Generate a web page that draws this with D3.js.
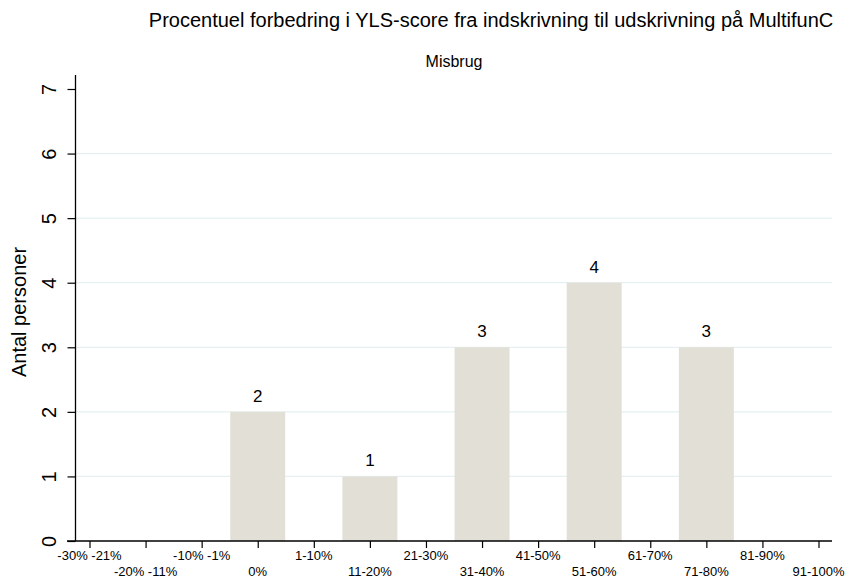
<!DOCTYPE html>
<html>
<head>
<meta charset="utf-8">
<script src="https://cdn.jsdelivr.net/npm/d3@7"></script>
<style>
  body { margin: 0; background: #fff; }
  svg text { font-family: Arial, "Liberation Sans", sans-serif; fill: #000; }
</style>
</head>
<body>
<div id="chart"></div>
<script>
// Data
const categories = ["-30% -21%", "-20% -11%", "-10% -1%", "0%", "1-10%", "11-20%", "21-30%",
                    "31-40%", "41-50%", "51-60%", "61-70%", "71-80%", "81-90%", "91-100%"];
const counts     = [0, 0, 0, 2, 0, 1, 0, 3, 0, 4, 0, 3, 0, 0];
const yTicks     = [0, 1, 2, 3, 4, 5, 6, 7];
const titleText    = "Procentuel forbedring i YLS-score fra indskrivning til udskrivning på MultifunC";
const subtitleText = "Misbrug";
const yLabel       = "Antal personer";

const W = 846, H = 580;
const plot = { left: 75.5, right: 832, top: 75, bottom: 541 };

const svg = d3.select("#chart").append("svg")
  .attr("width", W).attr("height", H)
  .attr("viewBox", `0 0 ${W} ${H}`);

// scales
const x = d3.scalePoint().domain(categories).range([89.5, 818.5]);
const step = x.step();
const y = d3.scaleLinear().domain([0, 7]).range([541, 89]);

// gridlines (1..6)
svg.append("g")
  .selectAll("line").data(yTicks.filter(d => d > 0 && d < 7)).join("line")
  .attr("x1", plot.left).attr("x2", plot.right)
  .attr("y1", d => y(d)).attr("y2", d => y(d))
  .attr("stroke", "#e6eff1").attr("stroke-width", 1.3);

// bars
const data = categories.map((c, i) => ({ cat: c, n: counts[i] }));
const bw = step * 0.98;
svg.append("g")
  .selectAll("rect").data(data.filter(d => d.n > 0)).join("rect")
  .attr("x", d => x(d.cat) - bw / 2)
  .attr("width", bw)
  .attr("y", d => y(d.n))
  .attr("height", d => y(0) - y(d.n))
  .attr("fill", "#e2dfd6");

// value labels
svg.append("g")
  .selectAll("text").data(data.filter(d => d.n > 0)).join("text")
  .attr("x", d => x(d.cat))
  .attr("y", d => y(d.n) - 10)
  .attr("text-anchor", "middle")
  .attr("font-size", 17)
  .text(d => d.n);

// y axis
const yAxis = svg.append("g").attr("transform", `translate(${plot.left},0)`)
  .call(d3.axisLeft(y).tickValues(yTicks).tickSize(8).tickPadding(0).tickFormat(d3.format("d")))
  .call(g => g.select(".domain").remove())
  .call(g => g.selectAll(".tick line").attr("stroke", "#000").attr("stroke-width", 1.2));
yAxis.selectAll(".tick text")
  .attr("x", null).attr("dy", null)
  .attr("text-anchor", "middle")
  .attr("font-size", 20)
  .attr("transform", "translate(-20,0) rotate(-90)");

svg.append("line")
  .attr("x1", plot.left).attr("x2", plot.left)
  .attr("y1", plot.top).attr("y2", y(0))
  .attr("stroke", "#000").attr("stroke-width", 1.3);

// x axis
svg.append("g").attr("transform", `translate(0,${y(0)})`)
  .call(d3.axisBottom(x).tickSize(7).tickFormat(""))
  .call(g => g.select(".domain").remove())
  .call(g => g.selectAll(".tick line").attr("stroke", "#000").attr("stroke-width", 1.2));

svg.append("line")
  .attr("x1", 67).attr("x2", plot.right)
  .attr("y1", y(0)).attr("y2", y(0))
  .attr("stroke", "#000").attr("stroke-width", 1.3);

svg.append("g")
  .selectAll("text").data(categories).join("text")
  .attr("x", d => x(d))
  .attr("y", (d, i) => i % 2 === 0 ? 560 : 576)
  .attr("text-anchor", "middle")
  .attr("font-size", 13)
  .text(d => d);

// titles
svg.append("text")
  .attr("x", 491).attr("y", 27)
  .attr("text-anchor", "middle")
  .attr("font-size", 20)
  .text(titleText);

svg.append("text")
  .attr("x", 454).attr("y", 67)
  .attr("text-anchor", "middle")
  .attr("font-size", 16)
  .text(subtitleText);

svg.append("text")
  .attr("transform", `translate(26,${(plot.top + y(0)) / 2 + 4}) rotate(-90)`)
  .attr("text-anchor", "middle")
  .attr("font-size", 20)
  .text(yLabel);
</script>
</body>
</html>
